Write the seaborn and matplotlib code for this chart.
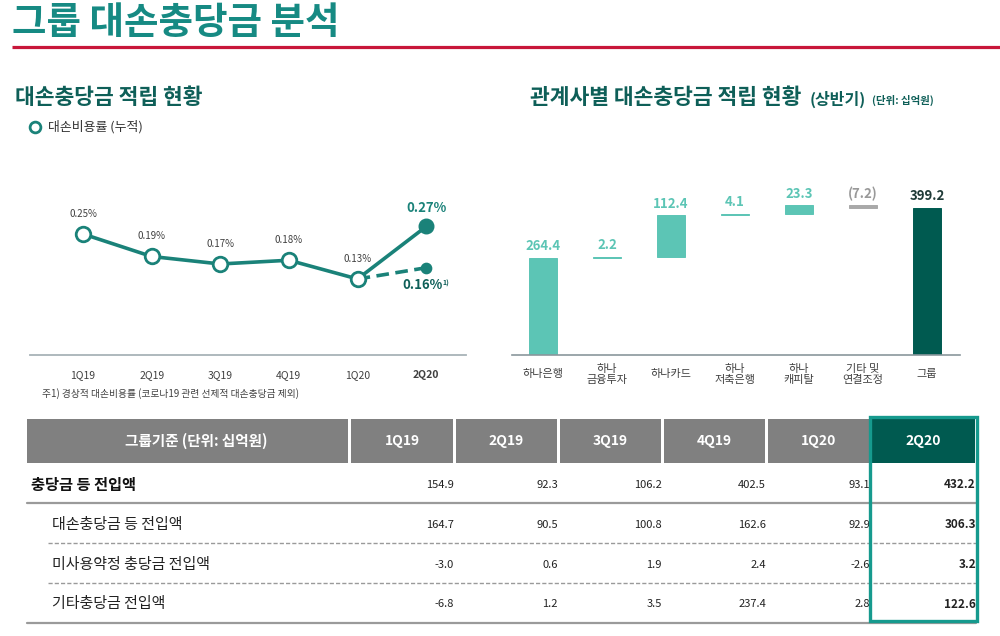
import matplotlib
matplotlib.use("Agg")
import matplotlib.pyplot as plt
import seaborn as sns
import pandas as pd
from matplotlib.patches import Rectangle

sns.set_theme(style="white")
plt.rcParams['font.family'] = ['Noto Sans CJK KR', 'DejaVu Sans']

# ---------------- data ----------------
quarters = ["1Q19", "2Q19", "3Q19", "4Q19", "1Q20", "2Q20"]
cost_ratio = [0.25, 0.19, 0.17, 0.18, 0.13, 0.27]
recurring_ratio = [0.13, 0.16]          # 1Q20 -> 2Q20 (excluding COVID-19 provisions)
affiliates = ["하나은행", "하나\n금융투자", "하나카드", "하나\n저축은행", "하나\n캐피탈", "기타 및\n연결조정", "그룹"]
provisions = [264.4, 2.2, 112.4, 4.1, 23.3, -7.2, 399.2]
value_labels = ["264.4", "2.2", "112.4", "4.1", "23.3", "(7.2)", "399.2"]
row_names = ["충당금 등 전입액", "대손충당금 등 전입액", "미사용약정 충당금 전입액", "기타충당금 전입액"]
row_total = [154.9, 92.3, 106.2, 402.5, 93.1, 432.2]
row_loan = [164.7, 90.5, 100.8, 162.6, 92.9, 306.3]
row_unused = [-3.0, 0.6, 1.9, 2.4, -2.6, 3.2]
row_other = [-6.8, 1.2, 3.5, 237.4, 2.8, 122.6]

# ---------------- style ----------------
TITLE_TEAL = "#168a83"
DARK_TEAL = "#0e5f58"
LINE_TEAL = "#1a8279"
LIGHT_TEAL = "#5cc5b5"
GROUP_TEAL = "#005a50"
GRAY_BAR = "#a9a9a9"
TXT = "#404040"

W, H = 1000, 636
fig = plt.figure(figsize=(W / 100, H / 100), dpi=100)
fig.patch.set_facecolor("white")

# overlay axes in pixel coordinates (for titles & table)
ov = fig.add_axes([0, 0, 1, 1], zorder=0)
ov.set_xlim(0, W)
ov.set_ylim(H, 0)
ov.axis("off")

ov.text(12, 34, "그룹 대손충당금 분석", fontsize=27, fontweight="bold", color=TITLE_TEAL,
        ha="left", va="baseline")
ov.plot([12, 1000], [47, 47], color="#c8173a", lw=2.3, solid_capstyle="butt")

ov.text(15, 97, "대손충당금 적립 현황", fontsize=15.5, fontweight="bold", color=DARK_TEAL,
        ha="left", va="center")
ov.scatter([35], [127], s=60, facecolor="white", edgecolor=LINE_TEAL, linewidth=2, zorder=3)
ov.text(48, 127, "대손비용률 (누적)", fontsize=9.3, color="#333333", ha="left", va="center")

ov.text(530, 97, "관계사별 대손충당금 적립 현황", fontsize=15.5, fontweight="bold", color=DARK_TEAL,
        ha="left", va="center")
ov.text(810, 99, "(상반기)", fontsize=11.5, fontweight="bold", color=DARK_TEAL, ha="left", va="center")
ov.text(872, 100, "(단위: 십억원)", fontsize=7.5, fontweight="bold", color=DARK_TEAL, ha="left", va="center")

ov.text(42, 394, "주1) 경상적 대손비용률 (코로나19 관련 선제적 대손충당금 제외)", fontsize=7,
        color=TXT, ha="left", va="center")

# ---------------- left: line chart ----------------
ax1 = fig.add_axes([30 / W, 1 - 355 / H, 436 / W, 165 / H], zorder=2)
ax1.set_facecolor("none")
x_idx = list(range(len(quarters)))
df_line = pd.DataFrame({"x": x_idx, "ratio": cost_ratio})
sns.lineplot(data=df_line, x="x", y="ratio", ax=ax1, color=LINE_TEAL, lw=2.6, zorder=2)
df_dash = pd.DataFrame({"x": x_idx[4:6], "ratio": recurring_ratio})
sns.lineplot(data=df_dash, x="x", y="ratio", ax=ax1, color=LINE_TEAL, lw=2.6,
             linestyle=(0, (3.5, 1.8)), zorder=1)
sns.scatterplot(data=df_line.iloc[:5], x="x", y="ratio", ax=ax1, s=110, color="white",
                edgecolor=LINE_TEAL, linewidth=2, zorder=4)
sns.scatterplot(data=df_line.iloc[5:], x="x", y="ratio", ax=ax1, s=110, color=LINE_TEAL,
                edgecolor=LINE_TEAL, linewidth=1, zorder=4)
sns.scatterplot(data=df_dash.iloc[1:], x="x", y="ratio", ax=ax1, s=55, color=LINE_TEAL,
                edgecolor=LINE_TEAL, linewidth=1, zorder=4)
ax1.set_xlim(-0.773, 5.58)
ax1.set_ylim(-0.0727, 0.3673)
for i, v in enumerate(cost_ratio[:5]):
    ax1.annotate(f"{v:.2f}%", (i, v), xytext=(0, 14.5), textcoords="offset points",
                 ha="center", va="center", fontsize=7, color=TXT)
ax1.annotate(f"{cost_ratio[5]:.2f}%", (5, cost_ratio[5]), xytext=(0, 13.5), textcoords="offset points",
             ha="center", va="center", fontsize=9.5, fontweight="bold", color=LINE_TEAL)
ax1.annotate(f"{recurring_ratio[1]:.2f}%", (5, recurring_ratio[1]), xytext=(-3, -12.5),
             textcoords="offset points", ha="center", va="center", fontsize=9.5,
             fontweight="bold", color=DARK_TEAL)
ax1.annotate("1)", (5, recurring_ratio[1]), xytext=(14.5, -11), textcoords="offset points",
             ha="center", va="center", fontsize=5, fontweight="bold", color=DARK_TEAL)
ax1.set_xticks(x_idx)
ax1.set_xticklabels(quarters, fontsize=7.5, color=TXT)
ax1.get_xticklabels()[5].set_fontweight("bold")
ax1.tick_params(axis="x", length=0, pad=11)
ax1.set_yticks([])
ax1.set_xlabel("")
ax1.set_ylabel("")
for s in ["top", "left", "right"]:
    ax1.spines[s].set_visible(False)
ax1.spines["bottom"].set_color("#a8b3b8")
ax1.spines["bottom"].set_linewidth(1.3)
ax1.grid(False)

# ---------------- right: waterfall ----------------
ax2 = fig.add_axes([512 / W, 1 - 355 / H, 448 / W, 165 / H], zorder=2)
ax2.set_facecolor("none")
bottoms, heights, colors, tops = [], [], [], []
cum = 0.0
for i, v in enumerate(provisions):
    if i == len(provisions) - 1:
        bottoms.append(0); heights.append(v); colors.append(GROUP_TEAL); tops.append(v)
    else:
        start, end = cum, cum + v
        bottoms.append(min(start, end)); heights.append(abs(v))
        colors.append(LIGHT_TEAL if v >= 0 else GRAY_BAR)
        tops.append(max(start, end))
        cum = end
pos = list(range(len(affiliates)))
ax2.bar(pos, heights, bottom=bottoms, width=0.44, color=colors, edgecolor=colors, linewidth=0.7, zorder=2)
for i, (t, lab) in enumerate(zip(tops, value_labels)):
    col = LIGHT_TEAL if provisions[i] >= 0 else "#999999"
    if i == len(provisions) - 1:
        col = "#1f3a37"
    ax2.annotate(lab, (i, t), xytext=(0, 8.5), textcoords="offset points", ha="center",
                 va="center", fontsize=9.5, fontweight="bold", color=col)
for i, lab in enumerate(affiliates):
    ax2.annotate(lab, (i, 0), xytext=(0, -14), textcoords="offset points", ha="center",
                 va="center", fontsize=8, color=TXT, linespacing=1.05)
ax2.set_xlim(-0.484, 6.516)
ax2.set_ylim(0, 448)
ax2.set_xticks([])
ax2.set_yticks([])
for s in ["top", "left", "right"]:
    ax2.spines[s].set_visible(False)
ax2.spines["bottom"].set_color("#8a979c")
ax2.spines["bottom"].set_linewidth(1.2)
ax2.grid(False)

# ---------------- table ----------------
HDR_GRAY = "#808080"
col_left = [351, 456, 560, 664, 768, 872]
col_right = [453, 557, 661, 765, 869, 975]
hdr_top, hdr_bot = 419, 463
ov.add_patch(Rectangle((27, hdr_top), 321, hdr_bot - hdr_top, color=HDR_GRAY, lw=0))
ov.text(196, 441, "그룹기준 (단위: 십억원)", fontsize=10.5, fontweight="bold", color="white",
        ha="center", va="center")
for j, q in enumerate(quarters):
    fc = GROUP_TEAL if j == 5 else HDR_GRAY
    ov.add_patch(Rectangle((col_left[j], hdr_top), col_right[j] - col_left[j], hdr_bot - hdr_top,
                           color=fc, lw=0))
    ov.text((col_left[j] + col_right[j]) / 2, 441, q, fontsize=10, fontweight="bold",
            color="white", ha="center", va="center")

rows = [row_total, row_loan, row_unused, row_other]
row_y = [485, 525, 565, 604]
for r, (name, vals, y) in enumerate(zip(row_names, rows, row_y)):
    if r == 0:
        ov.text(31, y, name, fontsize=11, fontweight="bold", color="#111111", ha="left", va="center")
    else:
        ov.text(52, y, name, fontsize=10.8, color="#222222", ha="left", va="center")
    for j, v in enumerate(vals):
        ov.text(col_right[j] + 1, y, f"{v:.1f}", fontsize=8.5 if j == 5 else 8,
                fontweight="bold" if j == 5 else "normal", color="#222222",
                ha="right", va="center")

ov.plot([27, 976], [503, 503], color="#9a9a9a", lw=1.6)
ov.plot([48, 976], [543, 543], color="#9a9a9a", lw=1.0, linestyle=(0, (3, 1.5)))
ov.plot([48, 976], [583, 583], color="#9a9a9a", lw=1.0, linestyle=(0, (3, 1.5)))
ov.plot([27, 976], [623, 623], color="#9a9a9a", lw=1.6)

ov.add_patch(Rectangle((870, 417), 107, 204, fill=False, edgecolor="#169a8e", lw=2.4, zorder=5))

fig.savefig("out.png", dpi=100, facecolor="white")
